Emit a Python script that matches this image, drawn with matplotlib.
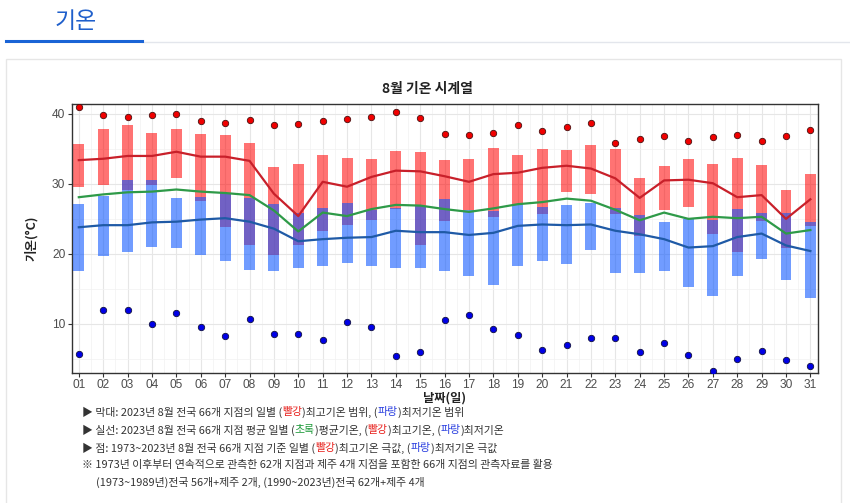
import matplotlib
matplotlib.use("Agg")
import matplotlib.pyplot as plt
from matplotlib.lines import Line2D
from matplotlib.patches import Rectangle
from matplotlib.ticker import MultipleLocator
import numpy as np

plt.rcParams['font.family'] = ['Noto Sans CJK KR', 'DejaVu Sans']

# ---------------- data ----------------
day_labels = [f"{d:02d}" for d in range(1, 32)]
days = list(range(1, 32))

high_top = [35.7, 37.8, 38.4, 37.3, 37.8, 37.1, 37.0, 35.8, 32.4, 32.8, 34.1, 33.7, 33.5, 34.7, 34.5, 33.4,
            33.5, 35.2, 34.1, 35.0, 34.9, 35.5, 35.0, 30.9, 32.6, 33.6, 32.8, 33.7, 32.7, 29.2, 31.4]
high_bot = [29.6, 29.8, 29.2, 29.8, 30.8, 27.6, 23.8, 21.2, 19.8, 21.2, 23.2, 24.1, 24.8, 26.4, 21.3, 24.7,
            26.2, 25.2, 27.1, 25.7, 28.8, 28.5, 25.7, 22.5, 26.3, 26.7, 22.8, 20.2, 24.7, 20.8, 24.0]
low_top = [27.1, 28.3, 30.5, 30.6, 28.0, 28.1, 28.7, 28.0, 27.1, 25.8, 26.6, 27.2, 26.2, 26.5, 26.9, 27.8,
           26.2, 26.1, 27.1, 26.7, 27.0, 27.2, 26.5, 25.5, 24.6, 25.0, 24.9, 26.4, 25.8, 25.8, 24.5]
low_bot = [17.5, 19.7, 20.2, 21.0, 20.8, 19.8, 19.0, 17.7, 17.6, 18.0, 18.2, 18.7, 18.3, 18.0, 18.0, 17.6,
           16.9, 15.6, 18.2, 19.0, 18.6, 20.5, 17.3, 17.3, 17.6, 15.3, 13.9, 16.8, 19.2, 16.3, 13.7]
mean_max = [33.4, 33.6, 34.0, 34.0, 34.6, 33.9, 33.9, 33.3, 28.6, 25.4, 30.3, 29.6, 31.0, 31.9, 31.8, 31.1,
            30.3, 31.4, 31.6, 32.3, 32.6, 32.2, 30.8, 28.0, 30.5, 30.6, 30.1, 28.1, 28.4, 25.0, 27.8]
mean_avg = [28.1, 28.5, 28.8, 28.9, 29.2, 28.9, 28.7, 28.4, 26.2, 23.2, 25.9, 25.4, 26.4, 27.0, 26.9, 26.4,
            26.0, 26.5, 27.1, 27.4, 27.9, 27.6, 26.3, 24.8, 25.9, 25.0, 25.3, 25.1, 25.3, 22.9, 23.4]
mean_min = [23.8, 24.1, 24.1, 24.5, 24.6, 24.9, 25.1, 24.6, 23.6, 21.8, 22.1, 22.3, 22.4, 23.3, 23.1, 23.1,
            22.7, 23.0, 24.0, 24.2, 24.1, 24.2, 23.3, 22.8, 22.1, 20.9, 21.1, 22.4, 22.9, 21.2, 20.4]
rec_max = [41.0, 39.8, 39.6, 39.8, 40.0, 39.0, 38.7, 39.2, 38.4, 38.6, 39.0, 39.3, 39.6, 40.3, 39.4, 37.2,
           37.0, 37.3, 38.4, 37.6, 38.1, 38.7, 35.9, 36.4, 36.8, 36.2, 36.7, 37.0, 36.2, 36.8, 37.7]
rec_min = [5.7, 12.0, 12.0, 10.0, 11.6, 9.5, 8.3, 10.7, 8.6, 8.6, 7.7, 10.3, 9.5, 5.4, 6.0, 10.5,
           11.2, 9.2, 8.4, 6.2, 6.9, 7.9, 8.0, 5.9, 7.3, 5.5, 3.3, 5.0, 6.1, 4.8, 3.9]

W, H = 850, 503
fig = plt.figure(figsize=(W / 100, H / 100), dpi=100)
fig.patch.set_facecolor('white')


def fx(px):
    return px / W


def fy(py):
    return 1 - py / H


# ---------------- page decorations ----------------
fig.text(fx(76), fy(22), "기온", fontsize=16.5, color='#1F5FCB', ha='center', va='center')
fig.add_artist(Line2D([fx(142), fx(850)], [fy(41.5), fy(41.5)], color='#E3E6EC', lw=1.0))
fig.add_artist(Line2D([fx(6), fx(142)], [fy(41), fy(41)], color='#1A64D6', lw=2.2))
fig.add_artist(Rectangle((fx(6), fy(520)), fx(835), fy(59) - fy(520), fill=False,
                         edgecolor='#E6E6E6', lw=1.0))

# ---------------- main axes ----------------
ax = fig.add_axes([fx(71.5), fy(372.7), fx(817.7) - fx(71.5), fy(104) - fy(372.7)])
ax.set_xlim(0.7, 31.3)
ax.set_ylim(3.0, 41.43)

ht = np.array(high_top); hb = np.array(high_bot)
lt = np.array(low_top); lb = np.array(low_bot)
ax.bar(days, ht - hb, bottom=hb, width=0.45, color='#FF0000', alpha=0.55, lw=0, zorder=2)
ax.bar(days, lt - lb, bottom=lb, width=0.45, color='#0A55FF', alpha=0.58, lw=0, zorder=3)

ax.plot(days, mean_max, color='#C8202A', lw=1.6, zorder=4)
ax.plot(days, mean_avg, color='#2E9A48', lw=1.6, zorder=4)
ax.plot(days, mean_min, color='#1F5AA6', lw=1.6, zorder=4)

ax.plot(days, rec_max, 'o', ms=4.6, mfc='#F00000', mec='#4A1010', mew=0.6, zorder=5)
ax.plot(days, rec_min, 'o', ms=4.6, mfc='#0000E6', mec='#101040', mew=0.6, zorder=5)

ax.set_xticks(days)
ax.set_xticklabels(day_labels)
ax.xaxis.set_minor_locator(MultipleLocator(0.5))
ax.yaxis.set_major_locator(MultipleLocator(10))
ax.yaxis.set_minor_locator(MultipleLocator(5))
ax.grid(which='major', color='#E6E6E6', lw=0.8, zorder=0)
ax.grid(which='minor', color='#F2F2F2', lw=0.5, zorder=0)
ax.set_axisbelow(True)
for s in ax.spines.values():
    s.set_color('#333333')
    s.set_linewidth(1.0)
ax.tick_params(which='major', length=3, width=0.8, color='#333333', labelcolor='#4D4D4D',
               labelsize=8.6, pad=1.5)
ax.tick_params(which='minor', length=0)
for lab in ax.get_xticklabels() + ax.get_yticklabels():
    lab.set_family(['Liberation Sans', 'DejaVu Sans'])

fig.text(fx(427), fy(89), "8월 기온 시계열", fontsize=10, fontweight='bold', color='#222222',
         ha='center', va='center')
fig.text(fx(445), fy(391.5), "날짜(일)", fontsize=8.8, fontweight='bold', color='#222222',
         ha='center', va='top')
fig.text(fx(31), fy(238), "기온(°C)", fontsize=9, fontweight='bold', color='#222222',
         ha='center', va='center', rotation=90)

# ---------------- notes with colored words ----------------
fig.canvas.draw()
renderer = fig.canvas.get_renderer()
FS = 7.85
TXT = '#333333'


def segs(x_px, y_px, parts):
    x = x_px
    for text, col in parts:
        t = fig.text(fx(x), fy(y_px), text, fontsize=FS, color=col, ha='left', va='center')
        bb = t.get_window_extent(renderer=renderer)
        x += bb.width


RED = '#E8231F'
BLUE = '#2A3FE0'
GREEN = '#1E9A3A'
segs(82, 412, [("▶ 막대: 2023년 8월 전국 66개 지점의 일별 (", TXT), ("빨강", RED),
               (")최고기온 범위, (", TXT), ("파랑", BLUE), (")최저기온 범위", TXT)])
segs(82, 430, [("▶ 실선: 2023년 8월 전국 66개 지점 평균 일별 (", TXT), ("초록", GREEN),
               (")평균기온, (", TXT), ("빨강", RED), (")최고기온, (", TXT), ("파랑", BLUE),
               (")최저기온", TXT)])
segs(82, 448, [("▶ 점: 1973~2023년 8월 전국 66개 지점 기준 일별 (", TXT), ("빨강", RED),
               (")최고기온 극값, (", TXT), ("파랑", BLUE), (")최저기온 극값", TXT)])
segs(82, 465, [("※ 1973년 이후부터 연속적으로 관측한 62개 지점과 제주 4개 지점을 포함한 66개 지점의 관측자료를 활용", TXT)])
segs(96, 482, [("(1973~1989년)전국 56개+제주 2개, (1990~2023년)전국 62개+제주 4개", TXT)])

fig.savefig('out.png', dpi=100)
